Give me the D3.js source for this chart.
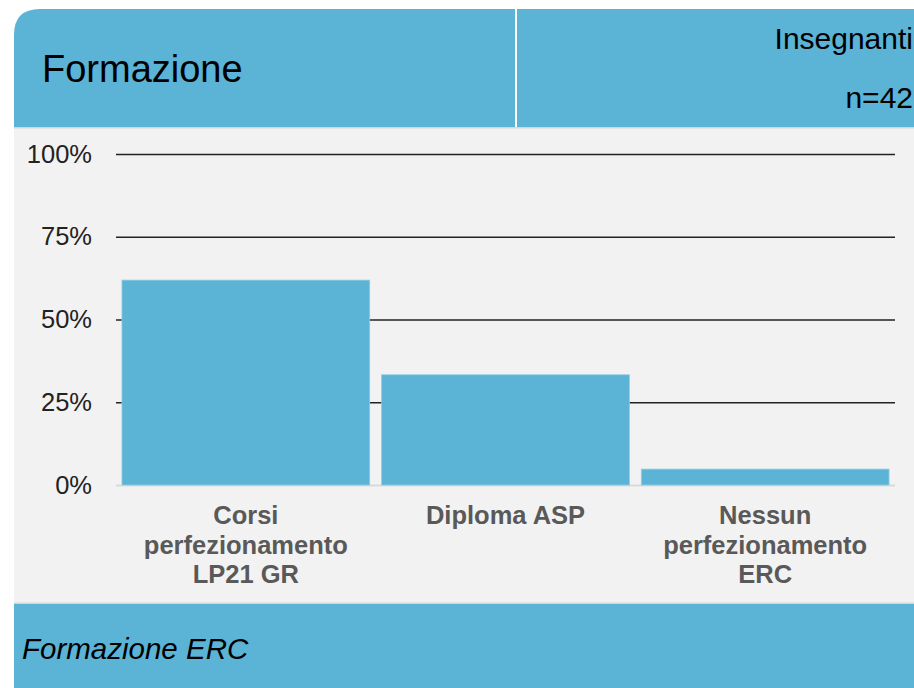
<!DOCTYPE html>
<html>
<head>
<meta charset="utf-8">
<script src="https://cdn.jsdelivr.net/npm/d3@7"></script>
<style>
html,body{margin:0;padding:0;background:#fff;overflow:hidden;}
svg{display:block;font-family:"Liberation Sans",Arial,sans-serif;}
</style>
</head>
<body>
<svg id="chart" width="914" height="688"></svg>
<script>
const categories = [
  ["Corsi", "perfezionamento", "LP21 GR"],
  ["Diploma ASP"],
  ["Nessun", "perfezionamento", "ERC"]
];
const values = [0.619, 0.333, 0.048];
const tickValues = [0, 0.25, 0.5, 0.75, 1];
const tickLabels = ["0%", "25%", "50%", "75%", "100%"];
const title = "Formazione";
const groupLabel = "Insegnanti";
const nLabel = "n=42";
const footerLabel = "Formazione ERC";

const blue = "#5bb3d6";
const svg = d3.select("#chart");

// header with rounded top-left corner
const hx = 14, hy = 9, hw = 914 - 14, hh = 118, r = 26;
svg.append("path")
  .attr("d", `M${hx},${hy + hh} L${hx},${hy + r} Q${hx},${hy} ${hx + r},${hy} L${hx + hw},${hy} L${hx + hw},${hy + hh} Z`)
  .attr("fill", blue);
svg.append("rect").attr("x", 515).attr("y", hy).attr("width", 2).attr("height", hh).attr("fill", "#ffffff");
svg.append("rect").attr("x", hx).attr("y", 127).attr("width", hw).attr("height", 476).attr("fill", "#f2f2f2");
svg.append("rect").attr("x", hx).attr("y", 127).attr("width", hw).attr("height", 1.5).attr("fill", "#d6d6d6");

// footer
svg.append("rect").attr("x", hx).attr("y", 603).attr("width", hw).attr("height", 85).attr("fill", blue);
svg.append("rect").attr("x", hx).attr("y", 602.5).attr("width", hw).attr("height", 1.5).attr("fill", "#d6d6d6");

svg.append("text").attr("x", 42).attr("y", 82).attr("font-size", 38).attr("fill", "#000").text(title);
svg.append("text").attr("x", 913).attr("y", 49).attr("font-size", 30).attr("text-anchor", "end").attr("fill", "#000").text(groupLabel);
svg.append("text").attr("x", 913).attr("y", 108).attr("font-size", 30).attr("text-anchor", "end").attr("fill", "#000").text(nLabel);
svg.append("text").attr("x", 22).attr("y", 659).attr("font-size", 29.5).attr("font-style", "italic").attr("fill", "#000").text(footerLabel);

// chart
const x0 = 116, x1 = 895, yTop = 154, yBot = 485;
const y = d3.scaleLinear().domain([0, 1]).range([yBot, yTop]);
const x = d3.scaleBand().domain(d3.range(categories.length)).range([x0, x1]).paddingInner(0.046).paddingOuter(0.023);

const g = svg.append("g");
const yAxis = d3.axisLeft(y).tickValues(tickValues).tickFormat((d, i) => tickLabels[i]).tickSize(-(x1 - x0)).tickPadding(24);
const ga = g.append("g").attr("transform", `translate(${x0},0)`).call(yAxis);
ga.select(".domain").remove();
ga.selectAll(".tick line").attr("stroke", "#222").attr("stroke-width", 1.6);
ga.selectAll(".tick").filter(d => d === 0).select("line").attr("stroke", "#d9d9d9").attr("stroke-width", 2.2);
ga.selectAll(".tick text").attr("font-size", 25.5).attr("fill", "#222").attr("font-family", "Liberation Sans, Arial, sans-serif");

g.selectAll("rect.bar").data(values).join("rect")
  .attr("class", "bar")
  .attr("x", (d, i) => x(i))
  .attr("width", x.bandwidth())
  .attr("y", d => y(d))
  .attr("height", d => y(0) - y(d))
  .attr("fill", blue)
  .attr("stroke", "#8fcbe3").attr("stroke-width", 0.8);

const lab = g.selectAll("text.cat").data(categories).join("text")
  .attr("class", "cat")
  .attr("text-anchor", "middle")
  .attr("font-size", 25.5).attr("font-weight", "bold").attr("fill", "#595959")
  .attr("transform", (d, i) => `translate(${x(i) + x.bandwidth() / 2},524)`);
lab.selectAll("tspan").data(d => d).join("tspan")
  .attr("x", 0).attr("y", (d, i) => i * 29.5).text(d => d);
</script>
</body>
</html>
